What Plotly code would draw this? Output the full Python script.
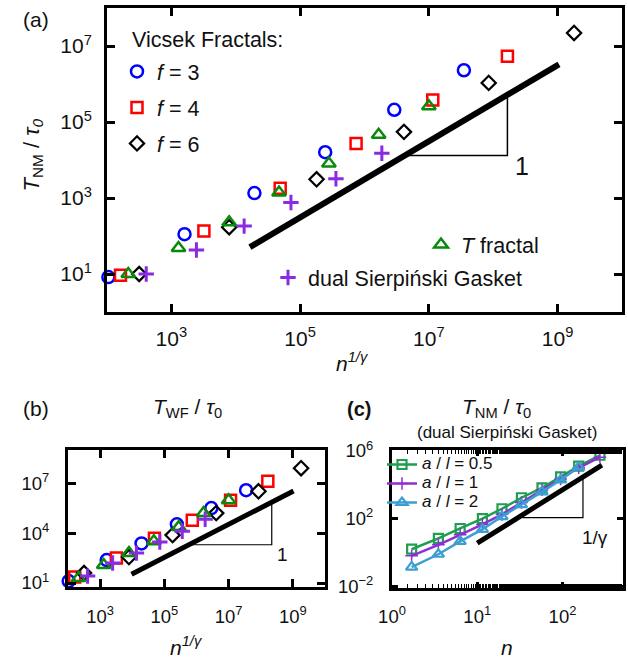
import plotly.graph_objects as go

# ---------------- data: panels (a) and (b) share x = n^(1/gamma) ----------------
f3_x = [1.05e2, 1.6e3, 1.95e4, 2.45e5, 2.9e6, 3.5e7]
f3_tnm = [8.3, 112, 1.35e3, 1.6e4, 2.1e5, 2.3e6]
f3_twf = [13, 240, 2.4e3, 3.4e4, 3.2e5, 3.8e6]
f4_x = [1.62e2, 3.2e3, 4.9e4, 7.4e5, 1.15e7, 1.66e8]
f4_tnm = [9.3, 135, 1.8e3, 2.7e4, 3.8e5, 5.4e6]
f4_twf = [23, 316, 5.0e3, 6.0e4, 9.5e5, 1.3e7]
f6_x = [3.16e2, 7.9e3, 1.8e5, 4.1e6, 8.5e7, 1.8e9]
f6_tnm = [10, 170, 3.1e3, 5.5e4, 1.07e6, 2.2e7]
f6_twf = [40, 363, 7.6e3, 1.6e5, 3.3e6, 8.0e7]
tf_x = [2.14e2, 1.29e3, 7.9e3, 4.7e4, 2.8e5, 1.66e6, 1.0e7]
tf_tnm = [10, 48, 230, 1.4e3, 8.1e3, 4.6e4, 2.6e5]
tf_twf = [20, 120, 630, 3.2e3, 2.3e4, 1.6e5, 9.5e5]
sg_x = [4.07e2, 2.45e3, 1.35e4, 7.2e4, 3.6e5, 1.86e6]
sg_tnm = [10, 43, 182, 760, 3.2e3, 1.5e4]
sg_twf = [26, 160, 630, 2.9e3, 1.3e4, 6.9e4]

# guide lines (slope) and slope triangles
a_line_x = [1.66e4, 1.05e9]
a_line_y = [51, 3.3e6]
a_tri_x = [4.4e6, 1.66e8, 1.66e8]
a_tri_y = [1.32e4, 1.32e4, 5.1e5]
b_line_x = [9.5e3, 1.05e9]
b_line_y = [34, 3.4e6]
b_tri_x = [7.2e5, 2.2e8, 2.2e8]
b_tri_y = [2.0e3, 2.0e3, 7.4e5]

# ---------------- data: panel (c) ----------------
c_n = [1.7, 3.5, 6.3, 11.5, 19.5, 33, 57.5, 95, 155, 275]
c_sq = [1.55, 6.8, 26, 100, 380, 1.7e3, 6.5e3, 2.9e4, 1.26e5, 5.5e5]
c_pl = [0.63, 2.8, 11, 45, 178, 890, 5.0e3, 2.2e4, 1.0e5, 4.2e5]
c_tr = [0.135, 0.78, 4.5, 23, 132, 660, 3.8e3, 1.9e4, 1.1e5]
c_line_x = [10, 290]
c_line_y = [3.5, 1.45e5]
c_tri_x = [34, 174, 174]
c_tri_y = [115, 115, 2.8e4]

# tick labels
ab_xticks = [1e3, 1e5, 1e7, 1e9]
ab_xtext = ["10<sup>3</sup>", "10<sup>5</sup>", "10<sup>7</sup>", "10<sup>9</sup>"]
a_yticks = [1e1, 1e3, 1e5, 1e7]
a_ytext = ["10<sup>1</sup>", "10<sup>3</sup>", "10<sup>5</sup>", "10<sup>7</sup>"]
b_yticks = [1e1, 1e4, 1e7]
b_ytext = ["10<sup>1</sup>", "10<sup>4</sup>", "10<sup>7</sup>"]
c_xticks = [1, 10, 100]
c_xtext = ["10<sup>0</sup>", "10<sup>1</sup>", "10<sup>2</sup>"]
c_yticks = [1e-2, 1e2, 1e6]
c_ytext = ["10<sup>−2</sup>", "10<sup>2</sup>", "10<sup>6</sup>"]

FONT = "Liberation Sans"
W, H = 628, 660
BLUE, RED, BLACK, GREEN, PURPLE = "#0000ff", "#ff0000", "#000000", "#0a8a0a", "#8a2be2"
CGREEN, CPURPLE, CBLUE = "#1e9e4e", "#8e2fd6", "#3b9fd1"

fig = go.Figure()


def mk(sym, color, size, lw=2.5):
    return dict(symbol=sym, size=size, color=color, line=dict(color=color, width=lw))


series = [
    ("<i>f</i> = 3", f3_x, f3_tnm, f3_twf, "circle-open", BLUE, 12, 2.5, "legend", "g1"),
    ("<i>f</i> = 4", f4_x, f4_tnm, f4_twf, "square-open", RED, 11, 2.5, "legend", "g2"),
    ("<i>f</i> = 6", f6_x, f6_tnm, f6_twf, "diamond-open", BLACK, 11, 2.2, "legend", "g3"),
    ("<i>T</i> fractal", tf_x, tf_tnm, tf_twf, "triangle-up-open", GREEN, 12, 2.5, "legend2", "g4"),
    ("dual Sierpiński Gasket", sg_x, sg_tnm, sg_twf, "cross-thin-open", PURPLE, 11, 3, "legend3", "g5"),
]

for name, xs, ya, yb, sym, col, sz, lw, leg, grp in series:
    fig.add_trace(go.Scatter(x=xs, y=ya, mode="markers", name=name, marker=mk(sym, col, sz, lw),
                             xaxis="x", yaxis="y", legend=leg, legendgroup=grp, cliponaxis=False))
for name, xs, ya, yb, sym, col, sz, lw, leg, grp in series:
    fig.add_trace(go.Scatter(x=xs, y=yb, mode="markers", name=name, marker=mk(sym, col, sz, lw),
                             xaxis="x2", yaxis="y2", showlegend=False, cliponaxis=False))

# guide lines
fig.add_trace(go.Scatter(x=a_line_x, y=a_line_y, mode="lines", line=dict(color="black", width=6),
                         xaxis="x", yaxis="y", showlegend=False))
fig.add_trace(go.Scatter(x=a_tri_x, y=a_tri_y, mode="lines", line=dict(color="black", width=1.5),
                         xaxis="x", yaxis="y", showlegend=False))
fig.add_trace(go.Scatter(x=b_line_x, y=b_line_y, mode="lines", line=dict(color="black", width=5),
                         xaxis="x2", yaxis="y2", showlegend=False))
fig.add_trace(go.Scatter(x=b_tri_x, y=b_tri_y, mode="lines", line=dict(color="black", width=1.2),
                         xaxis="x2", yaxis="y2", showlegend=False))

# panel (c)
fig.add_trace(go.Scatter(x=c_line_x, y=c_line_y, mode="lines", line=dict(color="black", width=5),
                         xaxis="x3", yaxis="y3", showlegend=False))
fig.add_trace(go.Scatter(x=c_tri_x, y=c_tri_y, mode="lines", line=dict(color="black", width=1.2),
                         xaxis="x3", yaxis="y3", showlegend=False))
LSPAN = '<span style="font-size:17px">{}</span>'
fig.add_trace(go.Scatter(x=c_n, y=c_sq, mode="lines+markers",
                         name=LSPAN.format("<i>a</i> / <i>l</i> = 0.5"),
                         line=dict(color=CGREEN, width=2.5), marker=mk("square-open", CGREEN, 9, 2.2),
                         xaxis="x3", yaxis="y3", legend="legend4", cliponaxis=False))
fig.add_trace(go.Scatter(x=c_n, y=c_pl, mode="lines+markers",
                         name=LSPAN.format("<i>a</i> / <i>l</i> = 1"),
                         line=dict(color=CPURPLE, width=2.5), marker=mk("cross-thin-open", CPURPLE, 9, 1.5),
                         xaxis="x3", yaxis="y3", legend="legend4", cliponaxis=False))
fig.add_trace(go.Scatter(x=c_n[:len(c_tr)], y=c_tr, mode="lines+markers",
                         name=LSPAN.format("<i>a</i> / <i>l</i> = 2"),
                         line=dict(color=CBLUE, width=2.5), marker=mk("triangle-up-open", CBLUE, 10, 2.2),
                         xaxis="x3", yaxis="y3", legend="legend4", cliponaxis=False))


def ax(domain, rng, tv, tt, anchor, ticklen=8, minor=False, standoff=0, fs=21):
    d = dict(domain=domain, type="log", range=rng, anchor=anchor, tickmode="array",
             tickvals=tv, ticktext=tt, ticks="inside", ticklen=ticklen, tickwidth=2.5,
             tickcolor="black", showline=True, linewidth=3, linecolor="black", mirror="ticks",
             showgrid=False, zeroline=False, automargin=False, ticklabelstandoff=standoff,
             tickfont=dict(family=FONT, size=fs, color="#111"))
    if minor:
        d["minor"] = dict(ticks="inside", ticklen=4, tickwidth=1.2, tickcolor="black", showgrid=False)
    return d


def px(x):
    return x / W


def py(y):
    return 1 - y / H


fig.update_layout(
    width=W, height=H, margin=dict(l=0, r=0, t=0, b=0, autoexpand=False),
    paper_bgcolor="white", plot_bgcolor="white",
    font=dict(family=FONT, size=20, color="#111"),
    xaxis=ax([px(107), px(622)], [2, 10], ab_xticks, ab_xtext, "y", standoff=6),
    yaxis=ax([py(312), py(8)], [0, 8], a_yticks, a_ytext, "x", standoff=8),
    xaxis2=ax([px(68), px(325)], [2, 10], ab_xticks, ab_xtext, "y2", standoff=11, fs=18.5),
    yaxis2=ax([py(587), py(450)], [0.76, 9], b_yticks, b_ytext, "x2", standoff=12, fs=18.5),
    xaxis3=ax([px(392), px(623)], [0, 2.71], c_xticks, c_xtext, "y3", ticklen=6, minor=True,
              standoff=10, fs=18.5),
    yaxis3=ax([py(588), py(450)], [-2.1, 6.05], c_yticks, c_ytext, "x3", ticklen=6,
              standoff=12, fs=18.5),
    legend=dict(x=px(117), y=py(51), xanchor="left", yanchor="top", bgcolor="rgba(0,0,0,0)",
                font=dict(family=FONT, size=21.5), tracegroupgap=5, traceorder="grouped",
                itemclick=False),
    legend2=dict(x=px(421), y=py(224), xanchor="left", yanchor="top", bgcolor="rgba(0,0,0,0)",
                 font=dict(family=FONT, size=21.5)),
    legend3=dict(x=px(268), y=py(257), xanchor="left", yanchor="top", bgcolor="rgba(0,0,0,0)",
                 font=dict(family=FONT, size=21.5)),
    legend4=dict(x=px(382), y=py(450), xanchor="left", yanchor="top", bgcolor="rgba(0,0,0,0)",
                 font=dict(family=FONT, size=11), tracegroupgap=0),
)

ann = [
    dict(text="(a)", x=px(36), y=py(20), size=21),
    dict(text="(b)", x=px(36), y=py(408), size=21),
    dict(text="<b>(c)</b>", x=px(359), y=py(409), size=20),
    dict(text="Vicsek Fractals:", x=px(207), y=py(40), size=21.5),
    dict(text="<i>n</i><sup><i>1/γ</i></sup>", x=px(352), y=py(362), size=21),
    dict(text="<i>n</i><sup><i>1/γ</i></sup>", x=px(186), y=py(646), size=21),
    dict(text="<i>n</i>", x=px(507), y=py(647), size=21),
    dict(text="<i>T</i><sub>WF</sub> / <i>τ</i><sub>0</sub>", x=px(187), y=py(408), size=21),
    dict(text="<i>T</i><sub>NM</sub> / <i>τ</i><sub>0</sub>", x=px(496), y=py(408), size=21),
    dict(text="(dual Sierpiński Gasket)", x=px(507), y=py(432), size=17),
]
for a in ann:
    fig.add_annotation(text=a["text"], x=a["x"], y=a["y"], xref="paper", yref="paper",
                       showarrow=False, font=dict(family=FONT, size=a["size"], color="#111"),
                       xanchor="center", yanchor="middle")
fig.add_annotation(text="<i>T</i><sub>NM</sub> / <i>τ<sub>0</sub></i>", x=px(16), y=py(117),
                   xref="paper", yref="paper", showarrow=False, textangle=-90,
                   font=dict(family=FONT, size=22, color="#111"))
# slope labels in data coordinates (log axes use log10 positions)
fig.add_annotation(text="1", x=8.44, y=3.85, xref="x", yref="y", showarrow=False,
                   font=dict(family=FONT, size=25, color="#111"))
fig.add_annotation(text="1", x=8.68, y=2.74, xref="x2", yref="y2", showarrow=False,
                   font=dict(family=FONT, size=19, color="#111"))
fig.add_annotation(text="1/γ", x=2.38, y=0.9, xref="x3", yref="y3", showarrow=False,
                   font=dict(family=FONT, size=19, color="#111"))

# the page's default 8px body margin would offset the figure inside the window
fig.write_html("out.html", config={"displayModeBar": False},
               post_script="document.body.style.margin='0';")
